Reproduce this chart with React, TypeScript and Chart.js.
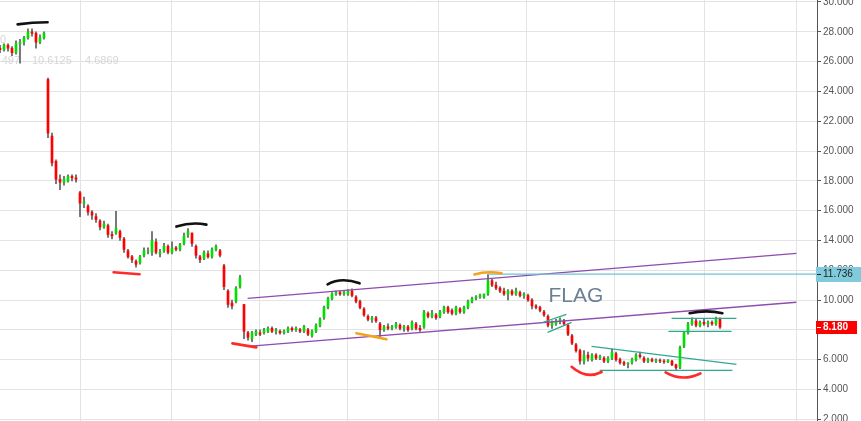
import { useEffect, useRef } from "react";
import { Chart, registerables } from "chart.js";

Chart.register(...registerables);

// ---- Candle data (index = trading period) ----
const opens = [
  26.9, 26.8, 27.1, 26.9, 26.6, 27.2, 27.3, 27.6, 28.0, 27.9, 27.3, 27.6,
  24.8, 21.0, 19.3, 18.1, 17.9, 18.0, 18.3, 18.2,
  17.2, 16.5, 16.3, 15.9, 15.6, 15.3, 14.9, 15.0, 14.4, 14.5,
  14.6, 14.1, 13.3, 12.9, 12.6, 12.5, 13.0, 13.3, 13.2, 13.9,
  13.1, 13.3, 13.6, 13.2, 13.5, 13.4, 13.8, 14.4, 14.5, 13.6,
  12.9, 12.8, 13.1, 12.9, 13.4, 13.3, 12.3, 10.6, 9.8, 9.9,
  10.9, 9.7, 7.8, 7.4, 7.7, 7.8, 7.8, 7.9, 8.1, 7.9,
  7.9, 7.8, 7.9, 8.1, 8.0, 8.0, 7.9, 8.0, 7.6, 7.9,
  8.3, 8.8, 9.5, 10.1, 10.4, 10.5, 10.4, 10.4, 10.6, 10.2,
  9.9, 9.4, 8.9, 8.7, 8.8, 8.4, 8.0, 8.2, 8.1, 8.2,
  8.3, 8.1, 8.2, 8.1, 8.4, 8.1, 8.2, 9.1, 8.9, 9.0,
  8.9, 9.2, 9.5, 9.3, 9.1, 9.4, 9.2, 9.5, 9.9, 10.1,
  10.2, 10.2, 10.4, 11.3, 11.0, 10.8, 10.6, 10.4, 10.6, 10.4,
  10.5, 10.3, 10.3, 10.0, 9.6, 9.5, 9.2, 8.9, 8.3, 8.4,
  8.6, 8.6, 8.3, 7.6, 7.0, 6.6, 5.9, 6.3, 6.0, 6.3,
  6.1, 6.1, 5.9, 6.1, 6.4, 6.0, 5.8, 5.7, 5.8, 6.0,
  6.3, 6.1, 5.9, 6.0, 5.9, 5.95, 5.9, 5.85, 5.9, 5.65,
  5.5, 6.9, 7.8, 8.4, 8.6, 8.3, 8.5, 8.4, 8.5, 8.4, 8.7,
];
const highs = [
  27.1, 27.2, 27.2, 27.0, 27.4, 27.5, 27.7, 28.2, 28.2, 28.0, 27.8, 28.0,
  24.9, 21.2, 19.4, 18.4, 18.3, 18.4, 18.4, 18.4,
  17.3, 16.9, 16.4, 16.0, 15.8, 15.4, 15.3, 15.1, 14.6, 15.95,
  14.7, 14.2, 13.4, 13.0, 12.7, 13.0, 13.5, 13.5, 14.6, 14.1,
  13.4, 13.8, 13.7, 13.9, 13.6, 13.8, 14.5, 14.8, 14.5, 13.7,
  13.0, 13.3, 13.3, 13.5, 13.7, 13.4, 12.4, 10.7, 10.0, 10.9,
  11.65, 9.7, 7.9, 7.9, 8.0, 8.0, 8.1, 8.2, 8.2, 8.1,
  8.0, 8.0, 8.2, 8.2, 8.2, 8.1, 8.3, 8.1, 8.0, 8.4,
  8.8, 9.6, 10.2, 10.5, 10.6, 10.6, 10.6, 10.7, 10.75, 10.3,
  10.0, 9.5, 9.0, 8.9, 8.9, 8.5, 8.3, 8.4, 8.3, 8.5,
  8.4, 8.3, 8.3, 8.6, 8.5, 8.3, 9.3, 9.2, 9.3, 9.1,
  9.3, 9.6, 9.6, 9.4, 9.6, 9.5, 9.6, 10.0, 10.2, 10.3,
  10.4, 10.4, 11.7, 11.4, 11.2, 10.9, 10.8, 10.7, 10.7, 10.8,
  10.6, 10.5, 10.4, 10.1, 9.7, 9.6, 9.3, 9.0, 8.6, 8.7,
  8.8, 8.7, 8.4, 7.7, 7.1, 6.7, 6.6, 6.5, 6.4, 6.4,
  6.3, 6.2, 6.2, 6.7, 6.5, 6.1, 5.9, 5.8, 6.1, 6.4,
  6.5, 6.2, 6.1, 6.1, 6.05, 6.05, 6.0, 6.0, 5.95, 5.7,
  6.9, 7.9, 8.5, 8.8, 8.7, 8.6, 8.7, 8.6, 8.6, 8.85, 8.8,
];
const lows = [
  26.6, 26.7, 26.7, 26.4, 26.5, 25.9, 27.1, 27.5, 27.7, 26.9, 27.2, 27.5,
  20.9, 19.0, 17.8, 17.4, 17.7, 17.9, 18.0, 17.9,
  15.6, 16.2, 15.7, 15.4, 15.2, 14.7, 14.8, 14.2, 14.1, 14.4,
  14.0, 13.2, 12.8, 12.5, 12.2, 12.4, 12.9, 13.1, 13.0, 13.1,
  12.9, 13.2, 13.1, 13.1, 13.3, 13.3, 13.7, 14.2, 13.6, 12.8,
  12.5, 12.7, 12.8, 12.8, 13.3, 12.9, 10.7, 9.5, 9.4, 9.8,
  10.8, 7.4, 7.3, 7.2, 7.6, 7.6, 7.7, 7.8, 7.8, 7.7,
  7.7, 7.7, 7.8, 7.9, 7.9, 7.8, 7.8, 7.6, 7.5, 7.8,
  8.2, 8.7, 9.4, 10.0, 10.3, 10.3, 10.3, 10.3, 10.2, 9.8,
  9.4, 8.9, 8.6, 8.5, 8.5, 7.5, 7.9, 8.0, 8.0, 8.1,
  8.0, 7.9, 7.9, 8.0, 8.0, 7.9, 8.1, 8.8, 8.8, 8.7,
  8.8, 9.1, 9.1, 9.0, 9.0, 9.1, 9.1, 9.4, 9.8, 10.0,
  10.1, 10.1, 10.3, 10.9, 10.7, 10.5, 10.3, 10.0, 10.3, 10.3,
  10.2, 10.1, 9.9, 9.4, 9.4, 9.2, 8.9, 8.2, 8.1, 8.3,
  8.4, 8.3, 7.6, 7.0, 6.5, 5.7, 5.7, 5.9, 5.9, 6.0,
  6.0, 5.8, 5.8, 6.0, 5.9, 5.7, 5.6, 5.45, 5.7, 5.9,
  6.1, 5.8, 5.8, 5.85, 5.8, 5.8, 5.75, 5.8, 5.6, 5.35,
  5.4, 6.8, 7.7, 8.3, 8.2, 8.2, 8.3, 8.2, 8.3, 8.3, 8.1,
];
const closes = [
  26.8, 27.1, 26.9, 26.6, 27.2, 27.3, 27.6, 28.0, 27.9, 27.3, 27.6, 27.9,
  21.2, 19.2, 18.1, 17.9, 18.1, 18.3, 18.2, 18.1,
  16.5, 16.6, 15.9, 15.7, 15.4, 14.9, 15.1, 14.4, 14.3, 14.8,
  14.2, 13.4, 12.9, 12.7, 12.4, 12.9, 13.3, 13.3, 14.0, 13.2,
  13.2, 13.6, 13.2, 13.5, 13.4, 13.7, 14.3, 14.6, 13.8, 13.0,
  12.7, 13.2, 12.9, 13.4, 13.6, 13.0, 10.9, 9.7, 9.6, 10.8,
  11.5, 7.9, 7.5, 7.8, 7.9, 7.7, 8.0, 8.1, 7.9, 8.0,
  7.8, 7.9, 8.1, 8.0, 8.1, 7.9, 8.2, 7.7, 7.9, 8.3,
  8.7, 9.5, 10.1, 10.4, 10.5, 10.4, 10.5, 10.6, 10.3, 9.9,
  9.5, 9.0, 8.7, 8.8, 8.6, 8.0, 8.2, 8.1, 8.2, 8.4,
  8.1, 8.2, 8.0, 8.5, 8.1, 8.0, 9.2, 8.9, 9.1, 8.8,
  9.2, 9.5, 9.2, 9.1, 9.5, 9.2, 9.5, 9.9, 10.1, 10.2,
  10.3, 10.4, 11.3, 11.0, 10.8, 10.6, 10.4, 10.6, 10.4, 10.6,
  10.3, 10.4, 10.0, 9.6, 9.5, 9.3, 9.0, 8.3, 8.5, 8.6,
  8.7, 8.4, 7.7, 7.1, 6.6, 5.9, 6.3, 6.1, 6.3, 6.1,
  6.2, 5.9, 6.1, 6.5, 6.0, 5.8, 5.7, 5.75, 6.0, 6.3,
  6.2, 5.9, 6.0, 5.9, 5.95, 5.9, 5.85, 5.95, 5.65, 5.45,
  6.8, 7.8, 8.4, 8.6, 8.3, 8.5, 8.4, 8.5, 8.4, 8.7, 8.18,
];

// vertical grid (period boundaries), in index units
const periodTicks = [20.1, 42.9, 64.9, 86.9, 109.6, 131.6, 153.6, 176.1, 199.1];

const lastPrice = 8.18;
const levelPrice = 11.736;
const levelStart = 121.9;

const legendTexts = ["0", "497", "10.6125", "4.6869"];

// trend lines: [x1, p1, x2, p2]
const purpleLines = [
  [61.9, 10.11, 199.1, 13.13],
  [61.9, 6.89, 199.1, 9.85],
];
const tealLines = [
  [135.6, 8.49, 141.6, 9.04],
  [136.9, 7.83, 142.9, 8.5],
  [147.9, 6.89, 184.1, 5.68],
  [149.9, 5.28, 183.1, 5.28],
  [167.9, 8.77, 184.1, 8.77],
  [167.1, 7.9, 182.9, 7.9],
];
// arcs: start, middle, end points [x, p, x, p, x, p]
const blackArcs = [
  [4.4, 28.5, 8.1, 28.6, 11.9, 28.64],
  [44.1, 14.93, 47.9, 15.13, 51.6, 15.06],
  [81.9, 11.05, 85.6, 11.32, 89.9, 11.12],
  [172.4, 9.11, 176.6, 9.24, 180.6, 9.11],
];
const redArcs = [
  [28.4, 11.86, 31.6, 11.79, 34.9, 11.73],
  [58.1, 7.09, 61.1, 6.96, 64.1, 6.82],
  [142.9, 5.52, 146.6, 5.0, 150.4, 5.17],
  [166.4, 5.14, 170.6, 4.8, 175.1, 5.07],
];
const orangeArcs = [
  [89.1, 7.77, 92.9, 7.57, 96.6, 7.36],
  [118.6, 11.72, 121.9, 11.86, 125.4, 11.79],
];
const flagLabel = { text: "FLAG", x: 137.1, p: 9.85 };

const FONT = '"Liberation Sans", Arial, sans-serif';

const overlayPlugin = {
  id: "overlay",
  beforeDatasetsDraw(chart: any) {
    const { ctx } = chart;
    ctx.save();
    ctx.fillStyle = "#d6d6d6";
    ctx.font = `11px ${FONT}`;
    ctx.textBaseline = "alphabetic";
    ctx.textAlign = "left";
    ctx.fillText(legendTexts[0], 0, 43);
    ctx.textAlign = "right";
    ctx.fillText(legendTexts[1], 20, 64);
    ctx.textAlign = "left";
    ctx.fillText(legendTexts[2], 32, 64);
    ctx.fillText(legendTexts[3], 85, 64);
    ctx.restore();
  },
  afterDatasetsDraw(chart: any) {
    const { ctx, chartArea } = chart;
    const xs = chart.scales.x;
    const ys = chart.scales.y;
    const px = (v: number) => xs.getPixelForValue(v);
    const py = (v: number) => ys.getPixelForValue(v);
    ctx.save();

    const drawLines = (lines: number[][], color: string, width: number) => {
      ctx.strokeStyle = color;
      ctx.lineWidth = width;
      ctx.lineCap = "butt";
      lines.forEach((l) => {
        ctx.beginPath();
        ctx.moveTo(px(l[0]), py(l[1]));
        ctx.lineTo(px(l[2]), py(l[3]));
        ctx.stroke();
      });
    };
    drawLines(purpleLines, "#8e4bb0", 1.4);
    drawLines(tealLines, "#2fa890", 1.3);

    // horizontal level
    ctx.strokeStyle = "#6cc3d6";
    ctx.lineWidth = 1.2;
    ctx.beginPath();
    ctx.moveTo(px(levelStart), py(levelPrice));
    ctx.lineTo(chartArea.right, py(levelPrice));
    ctx.stroke();

    const drawArcs = (arcs: number[][], color: string, width: number) => {
      ctx.strokeStyle = color;
      ctx.lineWidth = width;
      ctx.lineCap = "round";
      arcs.forEach((a) => {
        const x0 = px(a[0]), y0 = py(a[1]);
        const xm = px(a[2]), ym = py(a[3]);
        const x1 = px(a[4]), y1 = py(a[5]);
        const cx = 2 * xm - (x0 + x1) / 2;
        const cy = 2 * ym - (y0 + y1) / 2;
        ctx.beginPath();
        ctx.moveTo(x0, y0);
        ctx.quadraticCurveTo(cx, cy, x1, y1);
        ctx.stroke();
      });
    };
    drawArcs(blackArcs, "#111111", 2.6);
    drawArcs(redArcs, "#ff2a2a", 2.6);
    drawArcs(orangeArcs, "#f5a31f", 2.6);

    ctx.fillStyle = "#6c8094";
    ctx.font = `21px ${FONT}`;
    ctx.textAlign = "left";
    ctx.textBaseline = "alphabetic";
    ctx.fillText(flagLabel.text, px(flagLabel.x), py(flagLabel.p));
    ctx.restore();
  },
  afterDraw(chart: any) {
    const { ctx, chartArea, width } = chart;
    const ys = chart.scales.y;
    const left = chartArea.right - 1;
    ctx.save();
    ctx.font = `10px ${FONT}`;
    ctx.textBaseline = "middle";
    ctx.textAlign = "left";
    // level label
    let yl = Math.round(ys.getPixelForValue(levelPrice));
    ctx.fillStyle = "#7fcbdc";
    ctx.fillRect(left, yl - 7, width - left, 15);
    ctx.fillStyle = "#222";
    ctx.fillRect(left + 1, yl, 4, 1);
    ctx.fillText(levelPrice.toFixed(3), chartArea.right + 6, yl + 0.5);
    // last price label
    yl = Math.round(ys.getPixelForValue(lastPrice));
    ctx.fillStyle = "#ff0000";
    ctx.fillRect(left, yl - 6, 41, 13);
    ctx.fillStyle = "#ffffff";
    ctx.font = `bold 10px ${FONT}`;
    ctx.fillRect(left + 1, yl, 4, 1);
    ctx.fillText(lastPrice.toFixed(3), chartArea.right + 6, yl + 0.5);
    ctx.restore();
  },
};

export default function App() {
  const ref = useRef<HTMLCanvasElement | null>(null);
  useEffect(() => {
    document.body.style.margin = "0";
    const canvas = ref.current;
    if (!canvas) return;
    const idx = opens.map((_, i) => i);
    const chart = new Chart(canvas, {
      type: "bar",
      data: {
        datasets: [
          {
            label: "body",
            data: idx.map((i) => ({ x: i, y: [opens[i], closes[i]] })) as any,
            backgroundColor: idx.map((i) => (closes[i] >= opens[i] ? "#00e000" : "#ff0000")),
            barThickness: 2,
            grouped: false,
            order: 1,
            borderWidth: 0,
            borderSkipped: false,
          } as any,
          {
            label: "wick",
            data: idx.map((i) => ({ x: i, y: [lows[i], highs[i]] })) as any,
            backgroundColor: "#5e5e5e",
            barThickness: 1,
            grouped: false,
            order: 2,
            borderWidth: 0,
            borderSkipped: false,
          } as any,
        ],
      },
      plugins: [overlayPlugin],
      options: {
        animation: false,
        responsive: true,
        maintainAspectRatio: false,
        layout: { padding: 0 },
        plugins: { legend: { display: false }, tooltip: { enabled: false } },
        scales: {
          x: {
            type: "linear",
            min: 0,
            max: 204.25,
            offset: false,
            display: true,
            ticks: { display: false },
            grid: { color: "#e3e3e3", drawTicks: false, offset: false },
            border: { display: false },
            afterBuildTicks: (s: any) => {
              s.ticks = periodTicks.map((v) => ({ value: v }));
            },
            afterFit: (s: any) => {
              s.height = 0;
              s.paddingLeft = 0;
              s.paddingRight = 0;
            },
          } as any,
          y: {
            position: "right",
            min: 1.88,
            max: 30.134,
            ticks: {
              stepSize: 2,
              includeBounds: false,
              color: "#555555",
              font: { family: FONT, size: 10 },
              padding: 2,
              callback: (v: any) => Number(v).toFixed(3),
            },
            grid: { color: "#e3e3e3", tickColor: "#555555", tickLength: 4 },
            border: { color: "#555555", width: 1 },
            afterFit: (s: any) => {
              s.width = 44;
              s.paddingTop = 0;
              s.paddingBottom = 0;
            },
          } as any,
        },
      },
    });
    return () => chart.destroy();
  }, []);
  return (
    <div style={{ position: "fixed", left: 0, top: 0, width: 861, height: 421, background: "#fff" }}>
      <canvas ref={ref} />
    </div>
  );
}
